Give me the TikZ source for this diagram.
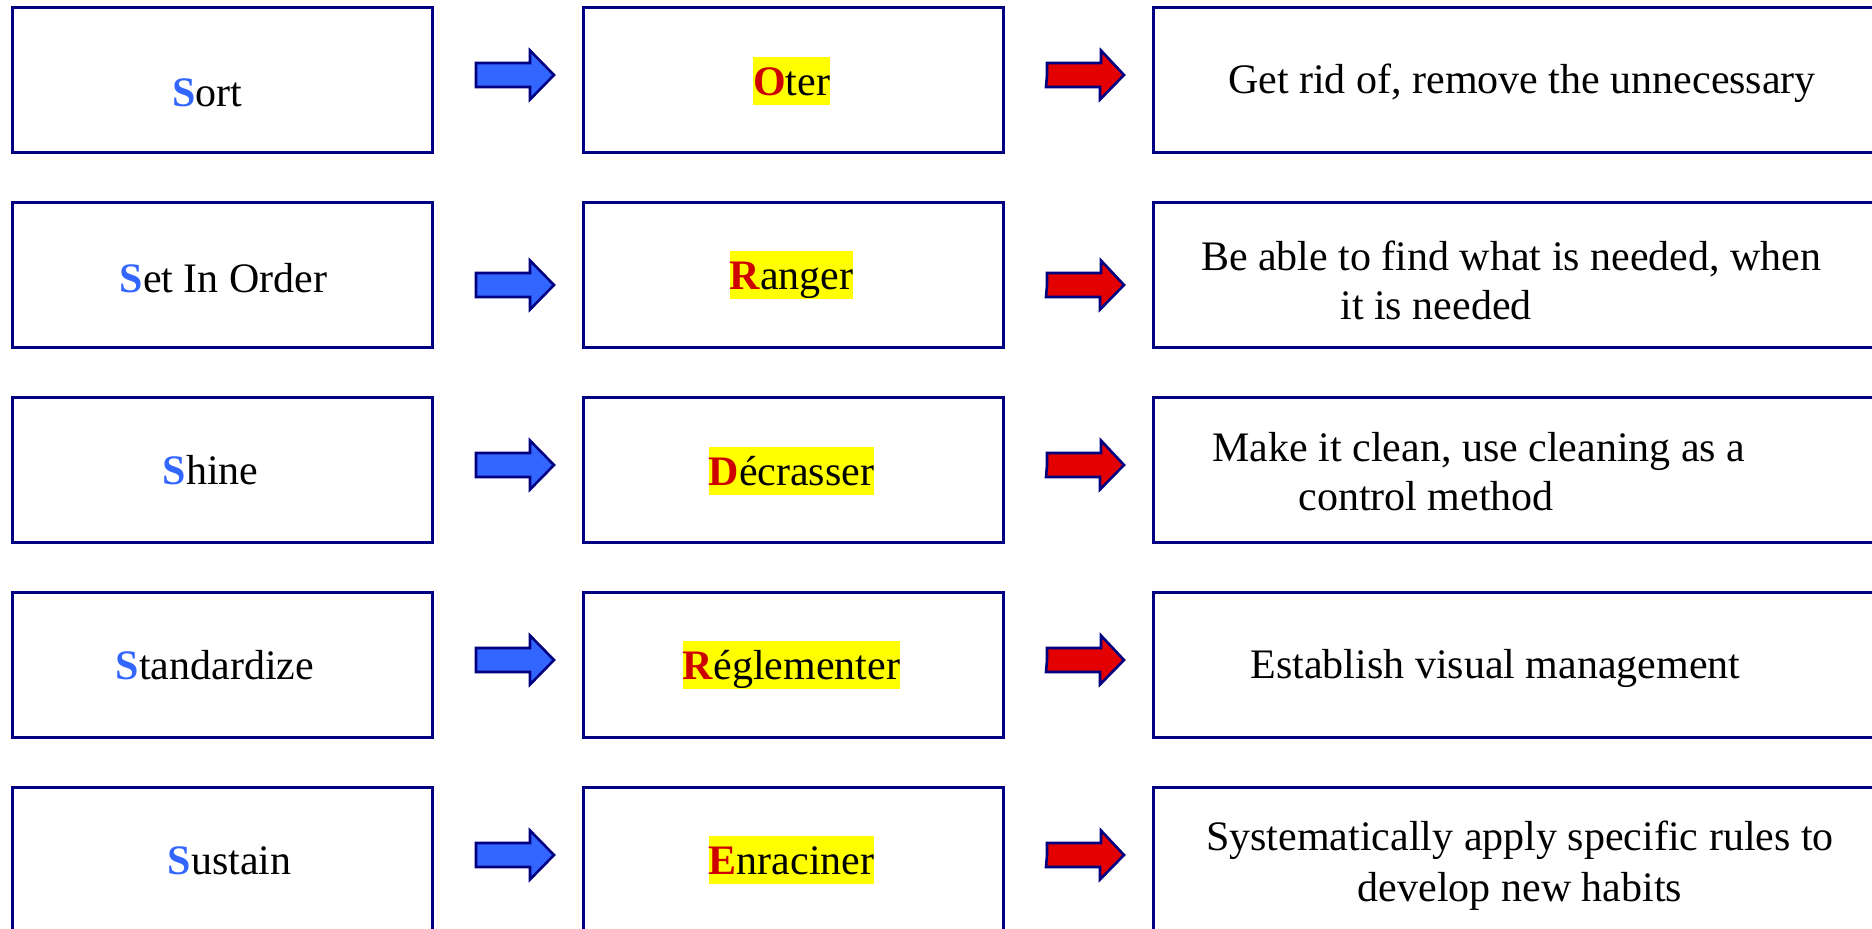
\documentclass[tikz,border=0pt]{standalone}
\usepackage{fontspec}
\setmainfont{Liberation Serif}
\definecolor{boxnavy}{HTML}{000080}
\definecolor{sblue}{HTML}{3366FF}
\definecolor{letterred}{HTML}{CC0000}
\definecolor{arrowred}{HTML}{E30000}
\definecolor{marker}{HTML}{FFFF00}
\tikzset{
    card/.style={draw=boxnavy, line width=1.5pt, minimum height=72.5pt, inner sep=0pt, outer sep=0pt},
    smallcard/.style={card, minimum width=210pt},
    widecard/.style={card, minimum width=367.5pt},
    txt/.style={font=\fontsize{21}{24.5}\selectfont, inner sep=0pt},
    hilite/.style={txt, anchor=base, fill=marker, text height=19pt, text depth=5pt},
    arrowline/.style={draw=boxnavy, line width=1.3pt, line join=miter}
}
\newcommand{\leadletter}[2]{\textcolor{#1}{\textbf{#2}}}
\newcommand{\fatArrow}[4]{
  \draw[arrowline, fill=#3] ([xshift=22pt,yshift=#4]#1.east) -- ++(0pt,6pt) -- ++(27pt,0pt)
     -- ++(0pt,6.25pt) -- ([xshift=-14.5pt,yshift=#4]#2.west) -- ++(-12pt,-12.25pt)
     -- ++(0pt,6.25pt) -- ++(-27pt,0pt) -- cycle;
}
\begin{document}
\begin{tikzpicture}[x=0.5pt,y=-0.5pt]
    \useasboundingbox (0,0) rectangle (1872,928);
    \clip (0,0) rectangle (1872,928);

    % the five rows of boxes
    \node[smallcard] (s1) at (222,79.5) {};
    \node[smallcard] (f1) at (793,79.5) {};
    \node[widecard]  (d1) at (1520.5,79.5) {};

    \node[smallcard] (s2) at (222,274.5) {};
    \node[smallcard] (f2) at (793,274.5) {};
    \node[widecard]  (d2) at (1520.5,274.5) {};

    \node[smallcard] (s3) at (222,469.5) {};
    \node[smallcard] (f3) at (793,469.5) {};
    \node[widecard]  (d3) at (1520.5,469.5) {};

    \node[smallcard] (s4) at (222,664.5) {};
    \node[smallcard] (f4) at (793,664.5) {};
    \node[widecard]  (d4) at (1520.5,664.5) {};

    \node[smallcard] (s5) at (222,859.5) {};
    \node[smallcard] (f5) at (793,859.5) {};
    \node[widecard]  (d5) at (1520.5,859.5) {};

    % block arrows
    \fatArrow{s1}{f1}{sblue}{2.25pt}
    \fatArrow{f1}{d1}{arrowred}{2.25pt}
    \fatArrow{s2}{f2}{sblue}{-5.25pt}
    \fatArrow{f2}{d2}{arrowred}{-5.25pt}
    \fatArrow{s3}{f3}{sblue}{2.25pt}
    \fatArrow{f3}{d3}{arrowred}{2.25pt}
    \fatArrow{s4}{f4}{sblue}{2.25pt}
    \fatArrow{f4}{d4}{arrowred}{2.25pt}
    \fatArrow{s5}{f5}{sblue}{2.25pt}
    \fatArrow{f5}{d5}{arrowred}{2.25pt}

    % english words
    \node[txt, anchor=base] (s1t) at (207.5,106) {\leadletter{sblue}{S}ort};
    \node[txt, anchor=base] (s2t) at (223.5,292) {\leadletter{sblue}{S}et In Order};
    \node[txt, anchor=base] (s3t) at (210.5,484) {\leadletter{sblue}{S}hine};
    \node[txt, anchor=base] (s4t) at (215,679) {\leadletter{sblue}{S}tandardize};
    \node[txt, anchor=base] (s5t) at (229.5,874) {\leadletter{sblue}{S}ustain};

    % french words
    \node[hilite] (f1t) at (791.5,95) {\leadletter{letterred}{O}ter};
    \node[hilite] (f2t) at (791.5,289) {\leadletter{letterred}{R}anger};
    \node[hilite] (f3t) at (791.5,485) {\leadletter{letterred}{D}écrasser};
    \node[hilite] (f4t) at (791.5,679) {\leadletter{letterred}{R}églementer};
    \node[hilite] (f5t) at (791.5,874) {\leadletter{letterred}{E}nraciner};

    % meanings
    \node[txt, anchor=base] (d1t) at (1522,93) {Get rid of, remove the unnecessary};
    \node[txt, anchor=north west, align=left] (d2t) at (1200.6,235.7)
        {\strut Be able to find what is needed, when\\\hspace*{69.7pt}it is needed};
    \node[txt, anchor=north west, align=left] (d3t) at (1212,426.3)
        {\strut Make it clean, use cleaning as a\\\hspace*{43pt}control method};
    \node[txt, anchor=base] (d4t) at (1495.5,678) {Establish visual management};
    \node[txt, font=\fontsize{21}{25.5}\selectfont, anchor=north, align=center] (d5t) at (1520,813.9)
        {\strut Systematically apply specific rules to\\develop new habits};
\end{tikzpicture}
\end{document}
